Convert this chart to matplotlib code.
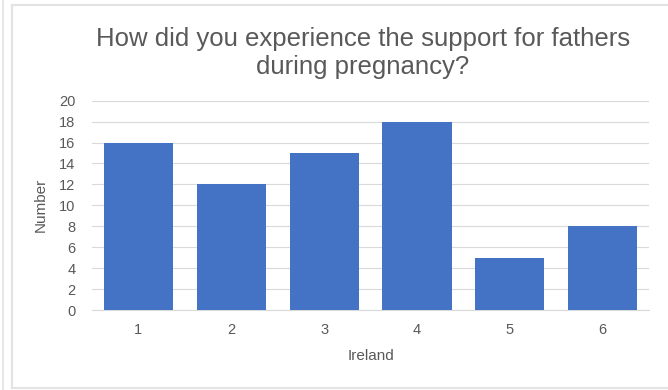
import matplotlib.pyplot as plt
from matplotlib.lines import Line2D

plt.rcParams['font.family'] = ['Liberation Sans', 'DejaVu Sans']

categories = ['1', '2', '3', '4', '5', '6']
counts = [16, 12, 15, 18, 5, 8]
y_ticks = list(range(0, 21, 2))

text_grey = '#595959'
bar_blue = '#4472C4'

fig = plt.figure(figsize=(6.68, 3.9), dpi=100)
ax = fig.add_axes([0.1377, 0.205, 0.8339, 0.537])

ax.bar(categories, counts, width=0.745, color=bar_blue, zorder=3)
ax.set_xlim(-0.5, len(categories) - 0.5)
ax.set_ylim(0, 20)
ax.set_yticks(y_ticks)

ax.grid(axis='y', color='#d9d9d9', linewidth=0.8, zorder=0)
for side in ['top', 'right', 'left']:
    ax.spines[side].set_visible(False)
ax.spines['bottom'].set_color('#d9d9d9')
ax.tick_params(axis='both', length=0, labelsize=10.5, colors=text_grey)
ax.tick_params(axis='x', pad=9)
ax.tick_params(axis='y', pad=12)

ax.set_xlabel('Ireland', fontsize=11, color=text_grey, labelpad=9)
ax.set_ylabel('Number', fontsize=11, color=text_grey, labelpad=8)

fig.text(0.543, 0.865, 'How did you experience the support for fathers\nduring pregnancy?',
         ha='center', va='center', fontsize=18.5, color=text_grey, linespacing=1.2)

# frame around the chart
frame = '#e3e3e3'
fig.add_artist(Line2D([11.5 / 668, 11.5 / 668], [0.005, 1 - 5 / 390], color=frame, lw=1.5))
fig.add_artist(Line2D([11.5 / 668, 1], [1 - 5 / 390, 1 - 5 / 390], color=frame, lw=1.5))
fig.add_artist(Line2D([11.5 / 668, 1], [2 / 390, 2 / 390], color=frame, lw=1.5))
fig.add_artist(Line2D([2.5 / 668, 2.5 / 668], [0, 1], color=frame, lw=1.2))

fig.savefig('out.png', dpi=100)
